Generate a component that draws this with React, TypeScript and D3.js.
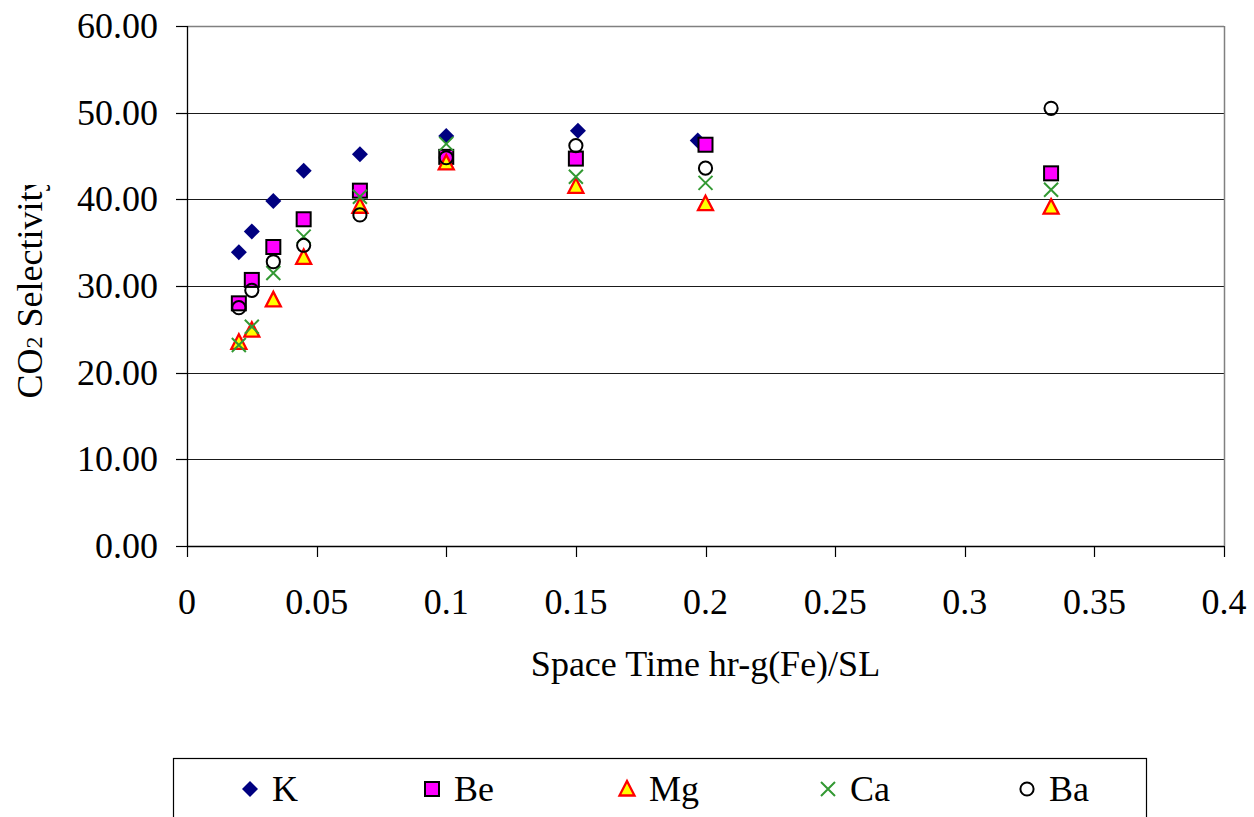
import React from "react";
import * as d3 from "d3";

// Space time (hr-g(Fe)/SL) for each catalyst run
const spaceTimeK = [0.02, 0.025, 0.0333, 0.045, 0.0667, 0.1, 0.1508, 0.197];
const spaceTime = [0.02, 0.025, 0.0333, 0.045, 0.0667, 0.1, 0.15, 0.2, 0.3333];

// CO2 selectivity (%) by promoter
const selK = [33.9, 36.3, 39.8, 43.3, 45.2, 47.3, 47.9, 46.8];
const selBe = [28.0, 30.7, 34.5, 37.7, 41.0, 44.9, 44.7, 46.3, 43.0];
const selMg = [23.5, 24.9, 28.4, 33.3, 39.2, 44.2, 41.5, 39.5, 39.1];
const selCa = [23.2, 25.3, 31.5, 35.7, 40.3, 46.4, 42.6, 41.9, 41.1];
const selBa = [27.5, 29.5, 32.8, 34.7, 38.2, 44.8, 46.2, 43.6, 50.5];

const xTicks = [0, 0.05, 0.1, 0.15, 0.2, 0.25, 0.3, 0.35, 0.4];
const yTicks = [0, 10, 20, 30, 40, 50, 60];

type Kind = "diamond" | "square" | "triangle" | "cross" | "circle";

const seriesList: { name: string; xs: number[]; ys: number[]; kind: Kind }[] = [
  { name: "K", xs: spaceTimeK, ys: selK, kind: "diamond" },
  { name: "Be", xs: spaceTime, ys: selBe, kind: "square" },
  { name: "Mg", xs: spaceTime, ys: selMg, kind: "triangle" },
  { name: "Ca", xs: spaceTime, ys: selCa, kind: "cross" },
  { name: "Ba", xs: spaceTime, ys: selBa, kind: "circle" },
];

const FONT = "'Liberation Serif', 'Times New Roman', serif";

function Marker({ kind, cx, cy }: { kind: Kind; cx: number; cy: number }) {
  switch (kind) {
    case "diamond":
      return (
        <path
          d={`M${cx},${cy - 8}L${cx + 8},${cy}L${cx},${cy + 8}L${cx - 8},${cy}Z`}
          fill="#000080"
        />
      );
    case "square":
      return (
        <rect x={cx - 7} y={cy - 7} width={14} height={14} fill="#FF00FF" stroke="#000" strokeWidth={2} />
      );
    case "triangle":
      return (
        <path
          d={`M${cx},${cy - 8}L${cx + 7.5},${cy + 6.5}L${cx - 7.5},${cy + 6.5}Z`}
          fill="#FFFF00"
          stroke="#FF0000"
          strokeWidth={2.3}
          strokeLinejoin="miter"
        />
      );
    case "cross":
      return (
        <path
          d={`M${cx - 7},${cy - 7}L${cx + 7},${cy + 7}M${cx - 7},${cy + 7}L${cx + 7},${cy - 7}`}
          stroke="#339933"
          strokeWidth={2}
          fill="none"
        />
      );
    case "circle":
      return <circle cx={cx} cy={cy} r={6.6} fill="none" stroke="#000" strokeWidth={2} />;
  }
}

export default function App() {
  const W = 1254;
  const H = 817;
  const x = d3.scaleLinear().domain([0, 0.4]).range([187, 1224]);
  const y = d3.scaleLinear().domain([0, 60]).range([546, 26]);
  const [x0, x1] = x.range();
  const [y0, y1] = y.range();
  const fmtY = d3.format(".2f");
  const fmtX = (v: number) => (v === 0 ? "0" : String(+v.toFixed(2)));

  const legendMarkerX = [250, 432, 627, 828, 1027];
  const legendY = 789;

  return (
    <svg
      width={W}
      height={H}
      style={{ position: "absolute", left: 0, top: 0, background: "#fff" }}
      fontFamily={FONT}
    >
      <defs>
        <clipPath id="ytitle-clip">
          <rect x={0} y={185} width={60} height={400} />
        </clipPath>
      </defs>

      {/* horizontal gridlines */}
      {yTicks
        .filter((t) => t > 0 && t < 60)
        .map((t) => (
          <line key={t} x1={x0} x2={x1} y1={Math.round(y(t)) + 0.5} y2={Math.round(y(t)) + 0.5} stroke="#1a1a1a" strokeWidth={1} />
        ))}

      {/* plot area border (top and right) */}
      <line x1={x0} x2={x1} y1={y1 + 0.5} y2={y1 + 0.5} stroke="#808080" strokeWidth={1.5} />
      <line x1={x1 + 0.5} x2={x1 + 0.5} y1={y1} y2={y0} stroke="#808080" strokeWidth={1.5} />

      {/* axes */}
      <line x1={x0 + 0.5} x2={x0 + 0.5} y1={y1} y2={y0} stroke="#000" strokeWidth={1.3} />
      <line x1={x0} x2={x1} y1={y0 + 0.5} y2={y0 + 0.5} stroke="#000" strokeWidth={1.3} />

      {/* y ticks and labels */}
      {yTicks.map((t) => (
        <g key={t}>
          <line x1={x0 - 11} x2={x0} y1={Math.round(y(t)) + 0.5} y2={Math.round(y(t)) + 0.5} stroke="#000" strokeWidth={1.2} />
          <text x={158} y={y(t) + 12} textAnchor="end" fontSize={36}>
            {fmtY(t)}
          </text>
        </g>
      ))}

      {/* x ticks and labels */}
      {xTicks.map((t) => (
        <g key={t}>
          <line x1={Math.round(x(t)) + 0.5} x2={Math.round(x(t)) + 0.5} y1={y0} y2={y0 + 11} stroke="#000" strokeWidth={1.2} />
          <text x={x(t)} y={614} textAnchor="middle" fontSize={36}>
            {fmtX(t)}
          </text>
        </g>
      ))}

      {/* axis titles */}
      <text x={(x0 + x1) / 2} y={676} textAnchor="middle" fontSize={36}>
        Space Time hr-g(Fe)/SL
      </text>
      <g clipPath="url(#ytitle-clip)">
        <text transform={`translate(42, ${(y0 + y1) / 2}) rotate(-90)`} textAnchor="middle" fontSize={36}>
          CO<tspan fontSize={24} dy={0}>2</tspan>
          <tspan> Selectivity</tspan>
        </text>
      </g>

      {/* data points */}
      {seriesList.map((s) => (
        <g key={s.name}>
          {s.ys.map((v, i) => (
            <Marker key={i} kind={s.kind} cx={x(s.xs[i])} cy={y(v)} />
          ))}
        </g>
      ))}

      {/* legend */}
      <rect x={173.5} y={758.5} width={973} height={70} fill="#fff" stroke="#000" strokeWidth={1.2} />
      {seriesList.map((s, i) => (
        <g key={s.name}>
          <Marker kind={s.kind} cx={legendMarkerX[i]} cy={legendY} />
          <text x={legendMarkerX[i] + 22} y={legendY + 12} fontSize={36}>
            {s.name}
          </text>
        </g>
      ))}
    </svg>
  );
}
